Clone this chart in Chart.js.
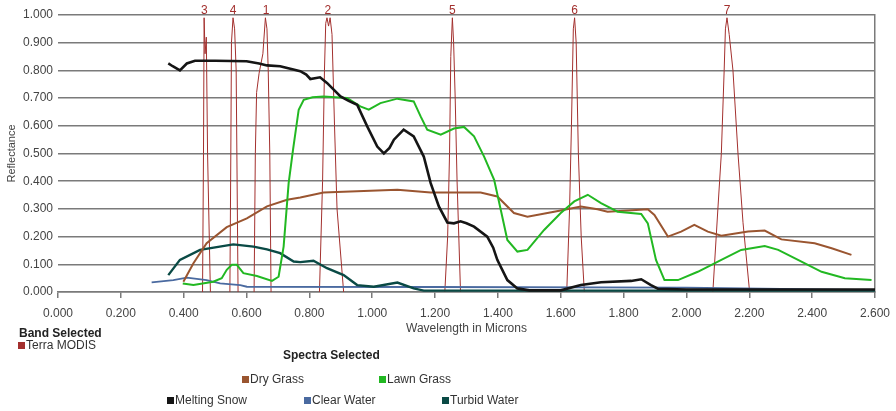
<!DOCTYPE html>
<html>
<head>
<meta charset="utf-8">
<script src="https://cdn.jsdelivr.net/npm/chart.js@4"></script>
<style>
  body { margin: 0; background: #fff; font-family: "Liberation Sans", Arial, sans-serif; }
  .wrap { position: relative; width: 896px; height: 411px; }
  canvas { position: absolute; left: 0; top: 0; }
  .lg { position: absolute; font-size: 12px; color: #333; white-space: nowrap; line-height: 14px; }
  .lg.head { font-weight: bold; color: #222; }
  .sq { display: inline-block; width: 7px; height: 7px; margin-right: 1px; vertical-align: 0px; }
</style>
</head>
<body>
<div class="wrap">
  <canvas id="chart" width="896" height="411"></canvas>
  <div class="lg head" style="left:19px; top:326px;">Band Selected</div>
  <div class="lg" style="left:18px; top:338px;"><span class="sq" style="background:#a3302e"></span>Terra MODIS</div>
  <div class="lg head" style="left:283px; top:348px;">Spectra Selected</div>
  <div class="lg" style="left:242px; top:372px;"><span class="sq" style="background:#9a5530"></span>Dry Grass</div>
  <div class="lg" style="left:379px; top:372px;"><span class="sq" style="background:#22b822"></span>Lawn Grass</div>
  <div class="lg" style="left:167px; top:393px;"><span class="sq" style="background:#151515"></span>Melting Snow</div>
  <div class="lg" style="left:304px; top:393px;"><span class="sq" style="background:#4a6aa0"></span>Clear Water</div>
  <div class="lg" style="left:442px; top:393px;"><span class="sq" style="background:#0a4a45"></span>Turbid Water</div>
</div>
<script>
// spectra, [wavelength in microns, reflectance]
const dryGrass = [[0.399,0.037],[0.431,0.104],[0.473,0.176],[0.537,0.234],[0.601,0.266],[0.665,0.309],[0.729,0.333],[0.771,0.341],[0.845,0.359],[1.08,0.369],[1.186,0.359],[1.345,0.359],[1.398,0.345],[1.451,0.285],[1.494,0.272],[1.579,0.29],[1.664,0.309],[1.717,0.299],[1.749,0.29],[1.802,0.293],[1.877,0.299],[1.898,0.278],[1.941,0.2],[1.983,0.218],[2.025,0.242],[2.068,0.218],[2.111,0.203],[2.196,0.218],[2.249,0.222],[2.302,0.19],[2.408,0.176],[2.462,0.158],[2.525,0.134]];
const lawnGrass = [[0.397,0.031],[0.431,0.025],[0.494,0.037],[0.521,0.05],[0.537,0.08],[0.553,0.098],[0.569,0.098],[0.59,0.068],[0.633,0.058],[0.681,0.04],[0.702,0.055],[0.718,0.164],[0.734,0.393],[0.748,0.514],[0.766,0.658],[0.782,0.694],[0.81,0.703],[0.845,0.706],[0.92,0.7],[0.962,0.67],[0.989,0.658],[1.026,0.682],[1.08,0.698],[1.132,0.688],[1.154,0.634],[1.175,0.586],[1.218,0.568],[1.26,0.59],[1.292,0.596],[1.324,0.562],[1.345,0.514],[1.356,0.489],[1.388,0.405],[1.409,0.297],[1.43,0.188],[1.462,0.146],[1.494,0.152],[1.547,0.224],[1.6,0.285],[1.643,0.327],[1.686,0.351],[1.728,0.321],[1.781,0.29],[1.856,0.282],[1.877,0.248],[1.903,0.116],[1.93,0.043],[1.973,0.043],[2.036,0.073],[2.111,0.116],[2.174,0.152],[2.249,0.166],[2.292,0.152],[2.355,0.116],[2.43,0.073],[2.504,0.05],[2.589,0.043]];
const meltingSnow = [[0.351,0.825],[0.365,0.815],[0.388,0.8],[0.41,0.825],[0.436,0.835],[0.5,0.835],[0.6,0.833],[0.64,0.825],[0.665,0.818],[0.707,0.815],[0.749,0.803],[0.771,0.797],[0.79,0.785],[0.803,0.769],[0.834,0.775],[0.856,0.755],[0.899,0.706],[0.925,0.69],[0.952,0.676],[0.984,0.598],[1.016,0.525],[1.037,0.5],[1.055,0.52],[1.069,0.55],[1.1,0.586],[1.132,0.562],[1.153,0.514],[1.164,0.489],[1.186,0.393],[1.212,0.309],[1.239,0.251],[1.26,0.248],[1.281,0.255],[1.3,0.248],[1.324,0.236],[1.366,0.2],[1.385,0.16],[1.398,0.116],[1.43,0.043],[1.462,0.013],[1.5,0.006],[1.6,0.006],[1.664,0.025],[1.728,0.035],[1.824,0.04],[1.856,0.046],[1.887,0.025],[1.909,0.012],[2.0,0.009],[2.6,0.009]];
const clearWater = [[0.298,0.035],[0.367,0.043],[0.41,0.052],[0.473,0.043],[0.516,0.031],[0.58,0.025],[0.601,0.019],[1.2,0.018],[2.0,0.016],[2.6,0.007]];
const turbidWater = [[0.351,0.061],[0.388,0.116],[0.452,0.152],[0.558,0.172],[0.622,0.164],[0.665,0.154],[0.707,0.14],[0.75,0.11],[0.771,0.108],[0.813,0.113],[0.856,0.086],[0.909,0.061],[0.952,0.025],[1.005,0.019],[1.08,0.034],[1.132,0.013],[1.164,0.005],[2.6,0.005]];

// Terra MODIS band responses
const band1 = [[0.624,0],[0.628,0.5],[0.632,0.72],[0.64,0.79],[0.652,0.86],[0.66,0.99],[0.665,0.95],[0.669,0.8],[0.674,0.5],[0.678,0]];
const band2 = [[0.832,0],[0.842,0.4],[0.848,0.8],[0.852,0.97],[0.856,0.99],[0.861,0.96],[0.866,0.99],[0.872,0.93],[0.88,0.6],[0.888,0.3],[0.909,0]];
const band3 = [[0.46,0],[0.463,0.5],[0.465,0.99],[0.468,0.86],[0.472,0.92],[0.476,0.5],[0.485,0]];
const band4 = [[0.547,0],[0.55,0.5],[0.552,0.9],[0.557,0.99],[0.562,0.95],[0.567,0.8],[0.573,0]];
const band5 = [[1.231,0],[1.24,0.2],[1.246,0.5],[1.25,0.85],[1.255,0.99],[1.259,0.9],[1.264,0.7],[1.27,0.4],[1.281,0]];
const band6 = [[1.619,0],[1.628,0.3],[1.634,0.6],[1.64,0.95],[1.644,0.99],[1.649,0.9],[1.656,0.5],[1.665,0.2],[1.675,0]];
const band7 = [[2.084,0],[2.1,0.3],[2.111,0.5],[2.12,0.8],[2.124,0.95],[2.129,0.99],[2.136,0.93],[2.148,0.8],[2.164,0.5],[2.18,0.25],[2.201,0]];
const bandNames = ["3", "4", "1", "2", "5", "6", "7"];
const bandPeaks = [0.466, 0.557, 0.662, 0.859, 1.255, 1.644, 2.129];

const GRID = "#7a7a7a";
const BAND = "#a3302e";

const pts = arr => arr.map(p => ({ x: p[0], y: p[1] }));

function series(label, arr, color, width) {
  return { label, data: pts(arr), borderColor: color, backgroundColor: color,
           borderWidth: width, pointRadius: 0, fill: false, tension: 0 };
}

const datasets = [
  series("Melting Snow", meltingSnow, "#151515", 2.6),
  series("Lawn Grass", lawnGrass, "#22b822", 2),
  series("Dry Grass", dryGrass, "#9a5530", 2),
  series("Turbid Water", turbidWater, "#0a4a45", 2.4),
  series("Clear Water", clearWater, "#4a6aa0", 1.8)
];
[band1, band2, band3, band4, band5, band6, band7].forEach((b, i) => {
  datasets.push(series("Band " + (i + 1), b, BAND, 1));
});

// band numbers above the plot
const bandLabelPlugin = {
  id: "bandLabels",
  afterDraw(chart) {
    const ctx = chart.ctx;
    const x = chart.scales.x;
    ctx.save();
    ctx.fillStyle = BAND;
    ctx.font = "12px 'Liberation Sans', Arial, sans-serif";
    ctx.textAlign = "center";
    ctx.textBaseline = "middle";
    bandNames.forEach((n, i) => {
      ctx.fillText(n, x.getPixelForValue(bandPeaks[i]), chart.chartArea.top - 4);
    });
    ctx.restore();
  }
};

const ctx = document.getElementById("chart").getContext("2d");

new Chart(ctx, {
  type: "line",
  data: { datasets },
  options: {
    responsive: false,
    animation: false,
    layout: { padding: { left: 0, right: 21, top: 15, bottom: 0 } },
    plugins: { legend: { display: false }, tooltip: { enabled: false } },
    scales: {
      x: {
        type: "linear",
        min: 0, max: 2.6,
        ticks: { stepSize: 0.2, padding: 8, color: "#444",
                 font: { family: "'Liberation Sans', Arial", size: 12 },
                 callback: v => v.toFixed(3) },
        grid: { drawOnChartArea: false, drawTicks: true, tickLength: 6, color: GRID, lineWidth: 1.5 },
        border: { display: true, color: GRID, width: 1.5 },
        title: { display: true, text: "Wavelength in Microns", color: "#444",
                 font: { family: "'Liberation Sans', Arial", size: 12 },
                 padding: { top: 0, bottom: 75 } },
        afterFit: s => { s.height = 119; s.paddingLeft = 0; s.paddingRight = 0; }
      },
      y: {
        min: 0, max: 1,
        ticks: { stepSize: 0.1, padding: 5, color: "#444",
                 font: { family: "'Liberation Sans', Arial", size: 12 },
                 callback: v => v.toFixed(3) },
        grid: { drawTicks: false, color: GRID, lineWidth: 1.5 },
        border: { display: false },
        title: { display: true, text: "Reflectance", color: "#444",
                 font: { family: "'Liberation Sans', Arial", size: 11 },
                 padding: { top: 5, bottom: 0 } },
        afterFit: s => { s.width = 58; }
      },
      y2: {
        position: "right",
        min: 0, max: 1,
        ticks: { display: false },
        grid: { drawOnChartArea: false, drawTicks: false },
        border: { display: true, color: GRID, width: 1.5 },
        afterFit: s => { s.width = 0; }
      }
    }
  },
  plugins: [bandLabelPlugin]
});
</script>
</body>
</html>
